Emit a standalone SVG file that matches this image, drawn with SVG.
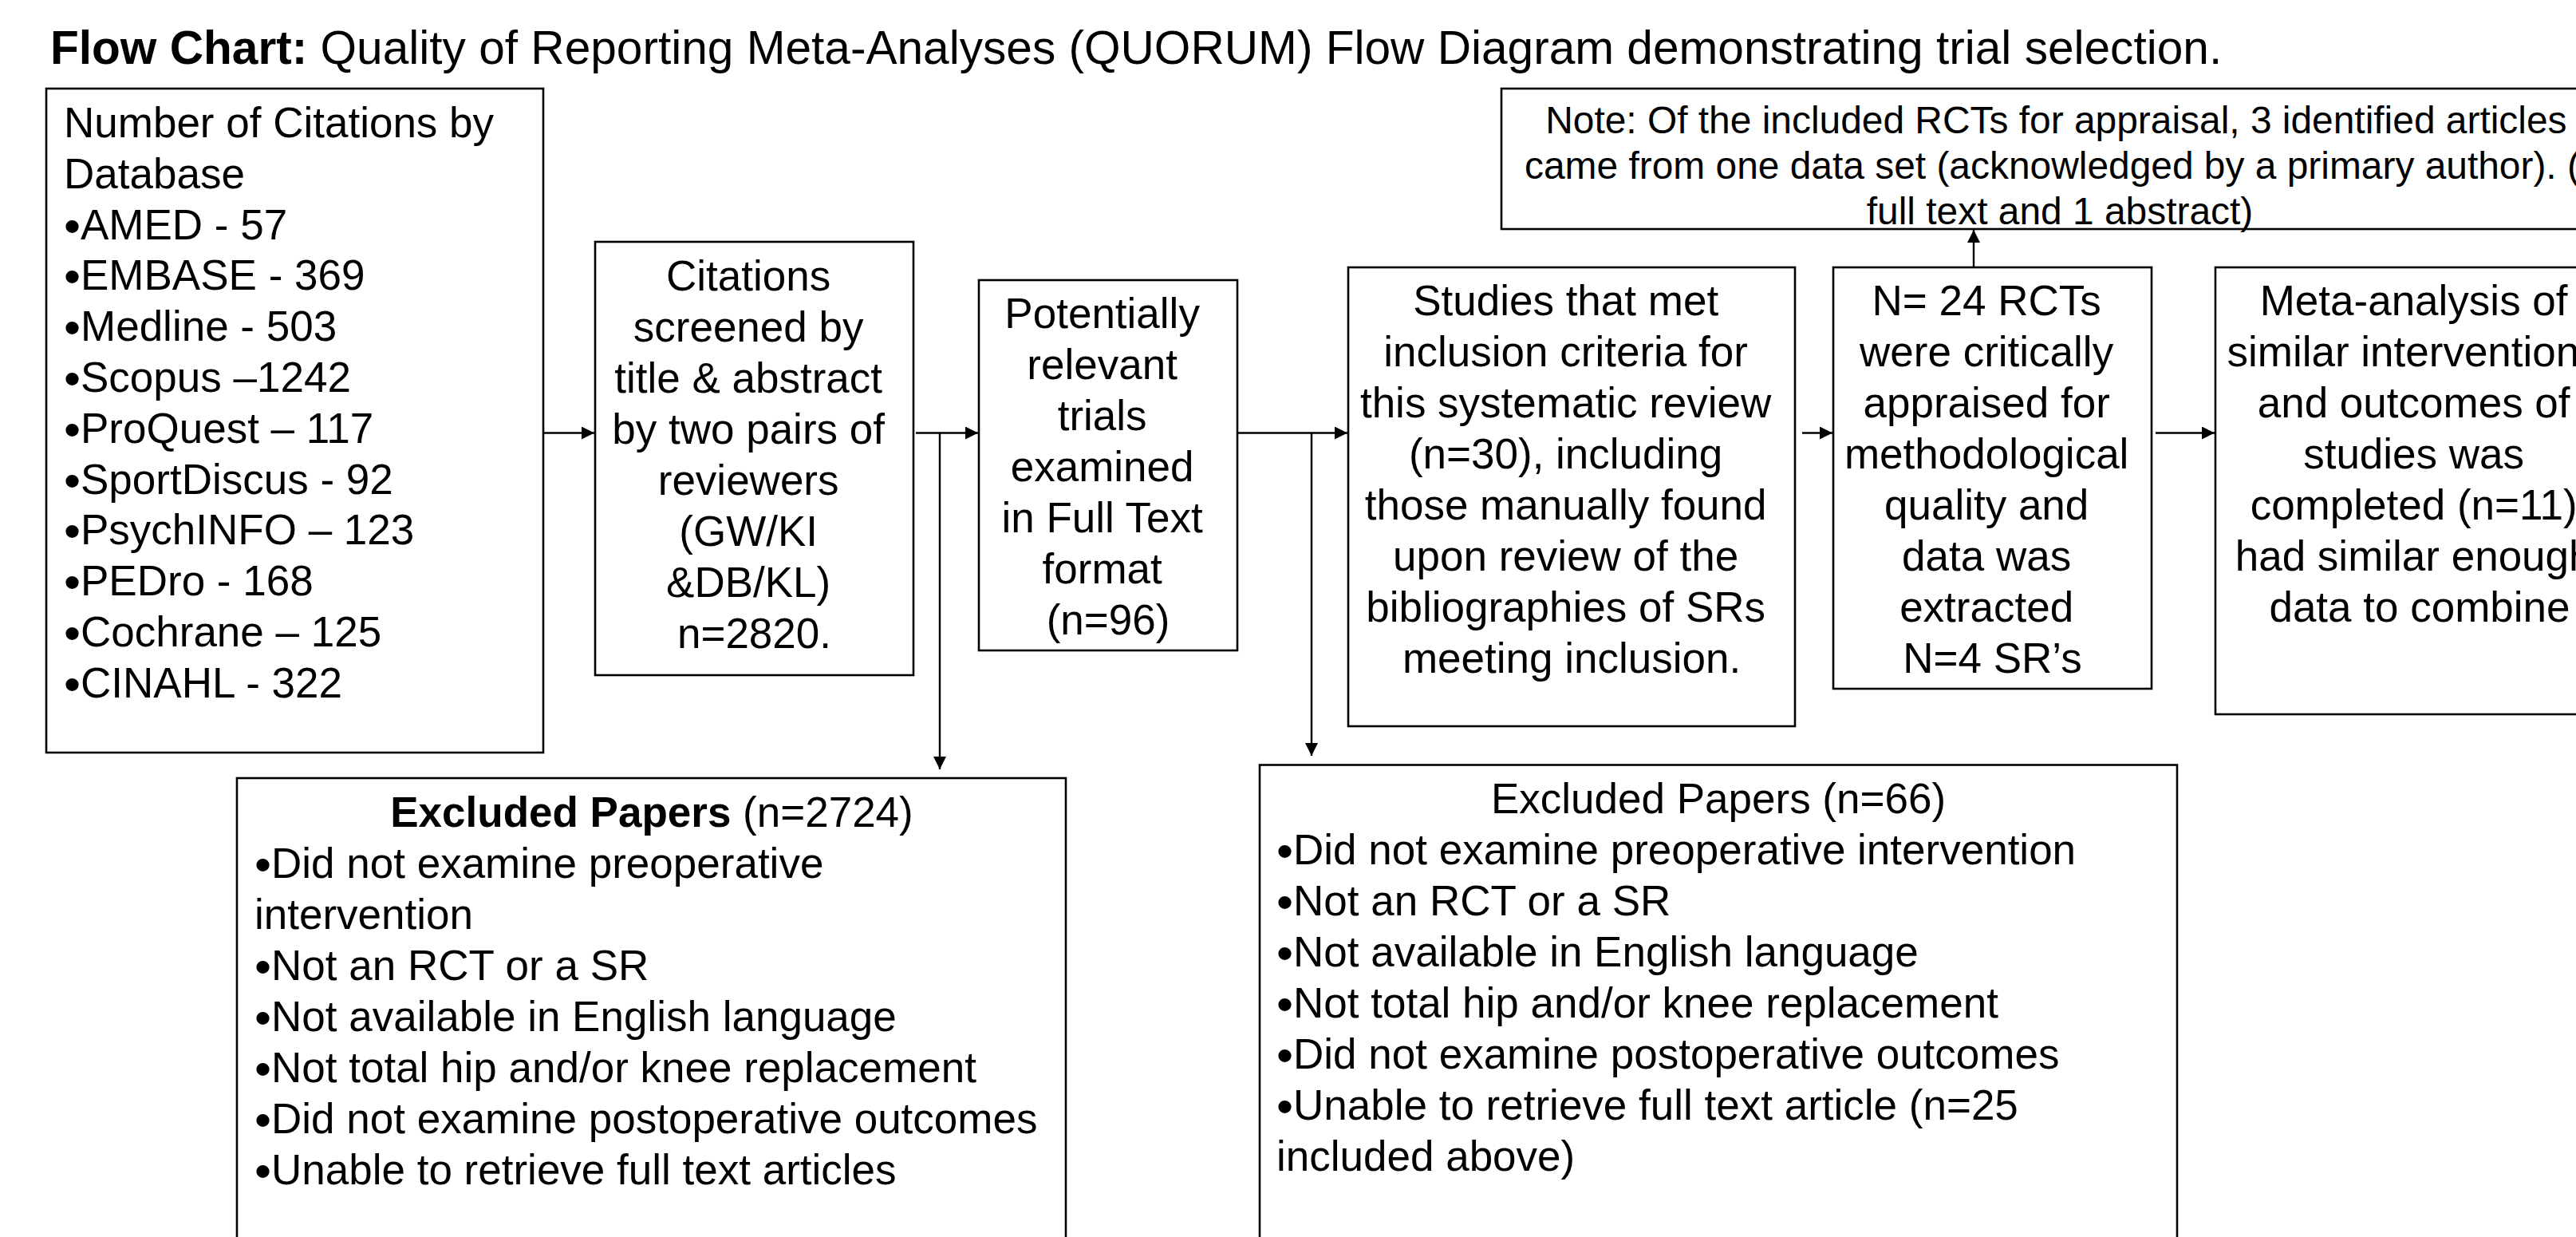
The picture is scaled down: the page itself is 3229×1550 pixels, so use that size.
<svg xmlns="http://www.w3.org/2000/svg" width="3229" height="1550" viewBox="0 0 3229 1550">
  <style>
    .box { fill: #ffffff; stroke: #000000; stroke-width: 2.6; }
    .t { font-family: "Liberation Sans", Arial, sans-serif; font-size: 53px; fill: #000000; }
    .c { text-anchor: middle; }
    .bul { font-size: 60px; baseline-shift: -4px; }
    .note { font-family: "Liberation Sans", Arial, sans-serif; font-size: 47.9px; fill: #000000; text-anchor: middle; }
    .title { font-family: "Liberation Sans", Arial, sans-serif; font-size: 58.6px; fill: #000000; }
    .b { font-weight: bold; }
    .link { stroke: #000000; stroke-width: 2.4; fill: none; marker-end: url(#arrow); }
  </style>
  <defs>
    <marker id="arrow" markerUnits="userSpaceOnUse" markerWidth="16" markerHeight="16" refX="16" refY="8" orient="auto">
      <path d="M0,0 L16,8 L0,16 z" fill="#000000"/>
    </marker>
  </defs>

  <rect x="0" y="0" width="3229" height="1550" fill="#ffffff"/>

  <!-- Heading -->
  <text class="title" x="63" y="80"><tspan class="b">Flow Chart:</tspan> Quality of Reporting Meta-Analyses (QUORUM) Flow Diagram demonstrating trial selection.</text>

  <!-- Connectors -->
  <g id="connectors">
    <line class="link" x1="682" y1="542.5" x2="745" y2="542.5"/>
    <line class="link" x1="1148" y1="542.5" x2="1226" y2="542.5"/>
    <line class="link" x1="1178" y1="542.5" x2="1178" y2="964"/>
    <line class="link" x1="1552" y1="542.5" x2="1689" y2="542.5"/>
    <line class="link" x1="1644" y1="542.5" x2="1644" y2="947"/>
    <line class="link" x1="2259" y1="542.5" x2="2297" y2="542.5"/>
    <line class="link" x1="2474" y1="334" x2="2474" y2="288"/>
    <line class="link" x1="2702" y1="542.5" x2="2776" y2="542.5"/>
  </g>

  <!-- Sources by database -->
  <g id="databases">
    <rect class="box" x="58" y="111" width="623" height="832"/>
    <text class="t">
      <tspan x="80" y="172">Number of Citations by</tspan>
      <tspan x="80" y="235.8">Database</tspan>
      <tspan x="80" y="299.6"><tspan class="bul">•</tspan>AMED - 57</tspan>
      <tspan x="80" y="363.4"><tspan class="bul">•</tspan>EMBASE - 369</tspan>
      <tspan x="80" y="427.2"><tspan class="bul">•</tspan>Medline - 503</tspan>
      <tspan x="80" y="491"><tspan class="bul">•</tspan>Scopus –1242</tspan>
      <tspan x="80" y="554.8"><tspan class="bul">•</tspan>ProQuest – 117</tspan>
      <tspan x="80" y="618.6"><tspan class="bul">•</tspan>SportDiscus - 92</tspan>
      <tspan x="80" y="682.4"><tspan class="bul">•</tspan>PsychINFO – 123</tspan>
      <tspan x="80" y="746.2"><tspan class="bul">•</tspan>PEDro - 168</tspan>
      <tspan x="80" y="810"><tspan class="bul">•</tspan>Cochrane – 125</tspan>
      <tspan x="80" y="873.8"><tspan class="bul">•</tspan>CINAHL - 322</tspan>
    </text>
  </g>

  <!-- Title/abstract screening -->
  <g id="screening">
    <rect class="box" x="746" y="303" width="399" height="543"/>
    <text class="t c">
      <tspan x="945.5" y="364">Citations</tspan>
      <tspan x="945.5" y="428">screened by</tspan>
      <tspan x="945.5" y="492">title &amp; abstract</tspan>
      <tspan x="945.5" y="556">by two pairs of</tspan>
      <tspan x="945.5" y="620">reviewers</tspan>
      <tspan x="945.5" y="684">(GW/KI</tspan>
      <tspan x="945.5" y="748">&amp;DB/KL)</tspan>
      <tspan x="945.5" y="812">n=2820.</tspan>
    </text>
  </g>

  <!-- Full text review -->
  <g id="fulltext">
    <rect class="box" x="1227" y="351" width="324" height="464"/>
    <text class="t c">
      <tspan x="1389" y="411">Potentially</tspan>
      <tspan x="1389" y="475">relevant</tspan>
      <tspan x="1389" y="539">trials</tspan>
      <tspan x="1389" y="603">examined</tspan>
      <tspan x="1389" y="667">in Full Text</tspan>
      <tspan x="1389" y="731">format</tspan>
      <tspan x="1389" y="795">(n=96)</tspan>
    </text>
  </g>

  <!-- Included studies -->
  <g id="included">
    <rect class="box" x="1690" y="335" width="560" height="575"/>
    <text class="t c">
      <tspan x="1970" y="395">Studies that met</tspan>
      <tspan x="1970" y="459">inclusion criteria for</tspan>
      <tspan x="1970" y="523">this systematic review</tspan>
      <tspan x="1970" y="587">(n=30), including</tspan>
      <tspan x="1970" y="651">those manually found</tspan>
      <tspan x="1970" y="715">upon review of the</tspan>
      <tspan x="1970" y="779">bibliographies of SRs</tspan>
      <tspan x="1970" y="843">meeting inclusion.</tspan>
    </text>
  </g>

  <!-- Critical appraisal -->
  <g id="appraisal">
    <rect class="box" x="2298" y="335" width="399" height="528"/>
    <text class="t c">
      <tspan x="2497.5" y="395">N= 24 RCTs</tspan>
      <tspan x="2497.5" y="459">were critically</tspan>
      <tspan x="2497.5" y="523">appraised for</tspan>
      <tspan x="2497.5" y="587">methodological</tspan>
      <tspan x="2497.5" y="651">quality and</tspan>
      <tspan x="2497.5" y="715">data was</tspan>
      <tspan x="2497.5" y="779">extracted</tspan>
      <tspan x="2497.5" y="843">N=4 SR’s</tspan>
    </text>
  </g>

  <!-- Note on shared data set -->
  <g id="note">
    <rect class="box" x="1882" y="111" width="1402" height="176"/>
    <text class="note">
      <tspan x="2584" y="166.5">Note: Of the included RCTs for appraisal, 3 identified articles</tspan>
      <tspan x="1911" y="223.5" text-anchor="start">came from one data set (acknowledged by a primary author). (</tspan>
      <tspan x="2582" y="281">full text and 1 abstract)</tspan>
    </text>
  </g>

  <!-- Meta-analysis -->
  <g id="metaanalysis">
    <rect class="box" x="2777" y="335" width="520" height="560"/>
    <text class="t c">
      <tspan x="3033" y="395">Meta-analysis of</tspan>
      <tspan x="3033" y="459">similar interventions</tspan>
      <tspan x="3033" y="523">and outcomes of</tspan>
      <tspan x="3033" y="587">studies was</tspan>
      <tspan x="3033" y="651">completed (n=11)</tspan>
      <tspan x="3033" y="715">had similar enough</tspan>
      <tspan x="3033" y="779">data to combine</tspan>
    </text>
  </g>

  <!-- Exclusions at screening -->
  <g id="excluded-screening">
    <rect class="box" x="297" y="975" width="1039" height="700"/>
    <text class="t c" x="817" y="1036"><tspan class="b">Excluded Papers</tspan> (n=2724)</text>
    <text class="t">
      <tspan x="319" y="1100"><tspan class="bul">•</tspan>Did not examine preoperative</tspan>
      <tspan x="319" y="1164">intervention</tspan>
      <tspan x="319" y="1228"><tspan class="bul">•</tspan>Not an RCT or a SR</tspan>
      <tspan x="319" y="1292"><tspan class="bul">•</tspan>Not available in English language</tspan>
      <tspan x="319" y="1356"><tspan class="bul">•</tspan>Not total hip and/or knee replacement</tspan>
      <tspan x="319" y="1420"><tspan class="bul">•</tspan>Did not examine postoperative outcomes</tspan>
      <tspan x="319" y="1484"><tspan class="bul">•</tspan>Unable to retrieve full text articles</tspan>
    </text>
  </g>

  <!-- Exclusions at full text -->
  <g id="excluded-fulltext">
    <rect class="box" x="1579" y="958.5" width="1150" height="700"/>
    <text class="t c" x="2154" y="1019">Excluded Papers (n=66)</text>
    <text class="t">
      <tspan x="1600" y="1083"><tspan class="bul">•</tspan>Did not examine preoperative intervention</tspan>
      <tspan x="1600" y="1147"><tspan class="bul">•</tspan>Not an RCT or a SR</tspan>
      <tspan x="1600" y="1211"><tspan class="bul">•</tspan>Not available in English language</tspan>
      <tspan x="1600" y="1275"><tspan class="bul">•</tspan>Not total hip and/or knee replacement</tspan>
      <tspan x="1600" y="1339"><tspan class="bul">•</tspan>Did not examine postoperative outcomes</tspan>
      <tspan x="1600" y="1403"><tspan class="bul">•</tspan>Unable to retrieve full text article (n=25</tspan>
      <tspan x="1600" y="1467">included above)</tspan>
    </text>
  </g>
</svg>
